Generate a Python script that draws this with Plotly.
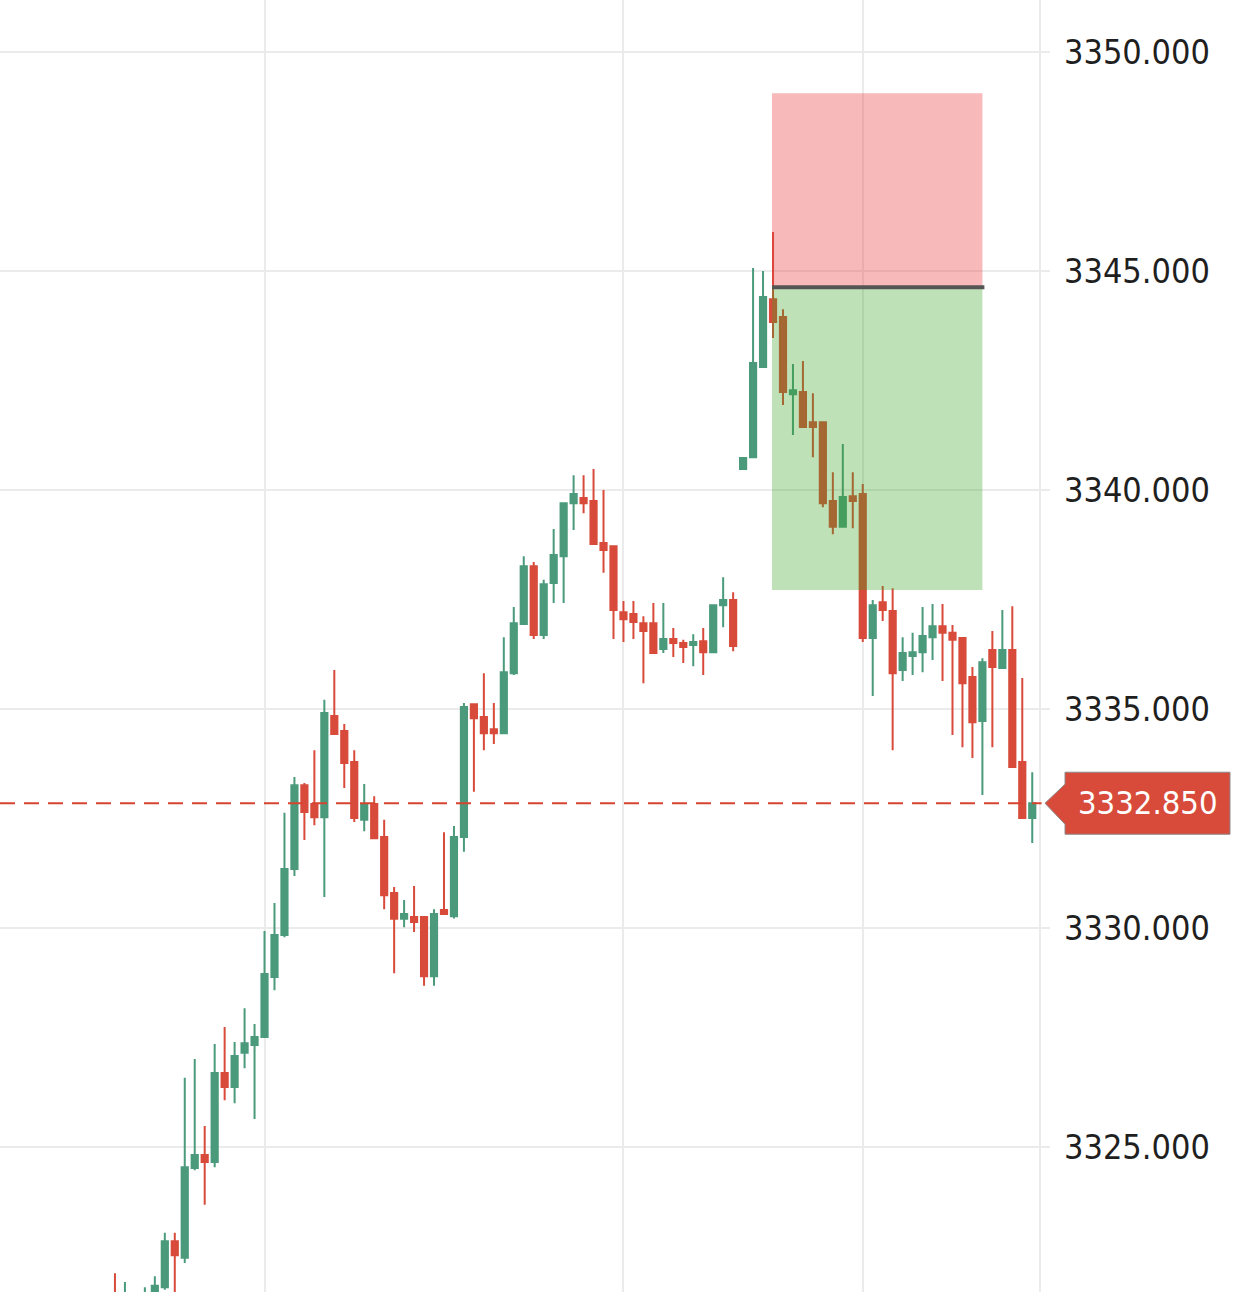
import plotly.graph_objects as go

# ---- data ----
bar_index = list(range(93))
open_ = [3321.50, 3321.00, 3321.20, 3321.20, 3321.50, 3321.80, 3322.85, 3322.47, 3324.52, 3324.82,
         3324.66, 3326.69, 3326.37, 3327.15, 3327.33, 3327.51, 3328.88, 3329.84, 3331.35, 3333.26,
         3332.83, 3332.53, 3334.84, 3334.50, 3333.79, 3332.47, 3332.83, 3332.08, 3330.80, 3330.21,
         3330.25, 3330.25, 3328.90, 3330.41, 3330.27, 3332.08, 3335.11, 3334.82, 3334.54, 3334.45,
         3335.82, 3336.94, 3338.26, 3336.69, 3337.88, 3338.49, 3339.70, 3339.82, 3339.75, 3338.79,
         3338.72, 3337.21, 3337.17, 3336.96, 3336.96, 3336.37, 3336.60, 3336.51, 3336.46, 3336.55,
         3336.30, 3337.37, 3337.49, 3340.48, 3340.75, 3342.81, 3344.36, 3343.95, 3342.19, 3342.24,
         3341.55, 3341.55, 3339.75, 3339.16, 3339.86, 3339.91, 3336.62, 3337.44, 3337.24, 3335.89,
         3336.21, 3336.30, 3336.64, 3336.89, 3336.74, 3336.62, 3335.73, 3334.73, 3336.35, 3335.94,
         3336.35, 3333.79, 3332.51]
high = [3322.12, 3321.92, 3321.60, 3321.80, 3322.05, 3323.04, 3323.04, 3326.58, 3327.01, 3325.48,
        3327.35, 3327.74, 3327.40, 3328.17, 3327.81, 3329.93, 3330.57, 3332.63, 3333.45, 3333.31,
        3334.06, 3335.21, 3335.89, 3334.66, 3334.06, 3333.29, 3333.01, 3332.47, 3330.94, 3330.64,
        3330.96, 3330.27, 3330.43, 3332.19, 3332.33, 3335.14, 3335.13, 3335.82, 3335.14, 3336.64,
        3337.33, 3338.49, 3338.36, 3337.95, 3339.11, 3339.72, 3340.34, 3340.34, 3340.48, 3340.00,
        3338.74, 3337.47, 3337.47, 3337.12, 3337.42, 3337.42, 3336.85, 3336.58, 3336.71, 3336.85,
        3337.39, 3338.01, 3337.67, 3340.73, 3345.07, 3345.00, 3345.89, 3344.13, 3342.88, 3342.95,
        3342.21, 3341.57, 3340.41, 3341.05, 3340.41, 3340.14, 3337.49, 3337.81, 3337.76, 3336.64,
        3336.74, 3337.33, 3337.40, 3337.40, 3336.92, 3336.64, 3335.96, 3336.16, 3336.78, 3337.26,
        3337.35, 3335.71, 3333.56]
low = [3320.80, 3320.70, 3320.90, 3321.00, 3321.30, 3321.74, 3321.60, 3322.35, 3324.47, 3323.68,
       3324.54, 3326.07, 3326.00, 3326.80, 3325.64, 3327.49, 3328.58, 3329.79, 3331.19, 3332.01,
       3332.35, 3330.71, 3334.41, 3333.20, 3332.42, 3332.21, 3332.03, 3330.43, 3328.97, 3330.02,
       3329.91, 3328.68, 3328.68, 3330.30, 3330.22, 3331.74, 3333.11, 3334.06, 3334.20, 3334.43,
       3335.78, 3336.92, 3336.60, 3336.60, 3337.42, 3337.42, 3339.09, 3339.47, 3338.75, 3338.11,
       3336.60, 3336.53, 3336.60, 3335.59, 3336.26, 3336.28, 3336.19, 3336.05, 3335.98, 3335.78,
       3336.28, 3336.87, 3336.32, 3340.48, 3340.73, 3342.79, 3343.47, 3341.94, 3341.26, 3341.42,
       3340.75, 3339.61, 3338.99, 3339.14, 3339.13, 3336.53, 3335.30, 3337.01, 3334.06, 3335.64,
       3335.78, 3335.84, 3336.12, 3335.64, 3334.41, 3334.13, 3333.88, 3333.04, 3334.13, 3335.92,
       3333.66, 3332.49, 3331.94]
close = [3321.20, 3321.50, 3321.40, 3321.60, 3321.83, 3322.85, 3322.53, 3324.54, 3324.82, 3324.66,
         3326.69, 3326.37, 3327.08, 3327.37, 3327.51, 3328.95, 3329.84, 3331.35, 3333.26, 3332.65,
         3332.53, 3334.91, 3334.43, 3333.77, 3332.51, 3332.83, 3332.05, 3330.75, 3330.21, 3330.32,
         3330.14, 3328.90, 3330.32, 3330.32, 3332.08, 3335.05, 3334.79, 3334.45, 3334.45, 3335.84,
         3336.96, 3338.26, 3336.69, 3337.85, 3338.52, 3339.70, 3339.91, 3339.70, 3338.77, 3338.63,
         3337.26, 3337.05, 3336.99, 3336.78, 3336.28, 3336.60, 3336.51, 3336.42, 3336.53, 3336.30,
         3337.37, 3337.49, 3336.44, 3340.73, 3342.90, 3344.41, 3343.84, 3342.24, 3342.28, 3341.44,
         3341.44, 3339.70, 3339.16, 3339.84, 3339.75, 3336.62, 3337.37, 3337.26, 3335.82, 3336.28,
         3336.30, 3336.67, 3336.89, 3336.74, 3336.58, 3335.59, 3334.70, 3336.07, 3335.96, 3336.35,
         3333.68, 3332.51, 3332.85]

price_ticks = [3325, 3330, 3335, 3340, 3345, 3350]
time_grid = [15, 51, 75, 92.8]
last_price = 3332.85

# short-position tool
pos_start, pos_end = 65.9, 87.0
entry_price = 3344.63
stop_price = 3349.06
target_price = 3337.72

GREEN = "#4a9a7b"
RED = "#d84b3b"
LABEL_FONT = "DejaVu Sans Condensed, DejaVu Sans, sans-serif"

fig = go.Figure(go.Candlestick(
    x=bar_index, open=open_, high=high, low=low, close=close,
    increasing=dict(line=dict(color=GREEN, width=2), fillcolor=GREEN),
    decreasing=dict(line=dict(color=RED, width=2), fillcolor=RED),
    whiskerwidth=0, hoverinfo="skip",
))

shapes = [
    # stop zone
    dict(type="rect", xref="x", yref="y", x0=pos_start, x1=pos_end, y0=entry_price, y1=stop_price,
         fillcolor="rgba(232,62,62,0.36)", line=dict(width=0), layer="above"),
    # target zone
    dict(type="rect", xref="x", yref="y", x0=pos_start, x1=pos_end, y0=target_price, y1=entry_price,
         fillcolor="rgba(60,165,35,0.33)", line=dict(width=0), layer="above"),
    # entry line
    dict(type="line", xref="x", yref="y", x0=pos_start, x1=pos_end + 0.2, y0=entry_price, y1=entry_price,
         line=dict(color="#555555", width=4), layer="above"),
    # last price line
    dict(type="line", xref="paper", yref="y", x0=0, x1=0.992, y0=last_price, y1=last_price,
         line=dict(color="#d8432f", width=2, dash="15px,9px"), layer="above"),
    # price tag
    dict(type="path", xref="paper", yref="y", xsizemode="pixel", ysizemode="pixel",
         xanchor=1, yanchor=last_price,
         path="M -5 0 L 15 19 L 15 31 L 180 31 L 180 -31 L 15 -31 L 15 -21 Z",
         fillcolor="#d84b3b", line=dict(color="#8a8a8a", width=1), layer="above"),
]

fig.update_layout(
    width=1242, height=1292,
    margin=dict(l=0, r=192, t=0, b=0),
    plot_bgcolor="white", paper_bgcolor="white",
    showlegend=False, boxgap=0.38, boxgroupgap=0,
    shapes=shapes,
    xaxis=dict(range=[-11.53, 93.78], rangeslider=dict(visible=False), showticklabels=False,
               tickvals=time_grid, showgrid=True, gridcolor="#ebebeb", gridwidth=2,
               zeroline=False, showline=False, ticks=""),
    yaxis=dict(range=[3321.69, 3351.19], side="right", tickvals=price_ticks, tickformat=".3f",
               showgrid=True, gridcolor="#ebebeb", gridwidth=2, zeroline=False, showline=False,
               ticks="", ticklabelstandoff=13,
               tickfont=dict(family=LABEL_FONT, size=34, color="#1f1f1f")),
    annotations=[dict(xref="paper", yref="y", x=1, y=last_price, xshift=97, text=f"{last_price:.3f}",
                      showarrow=False, xanchor="center", yanchor="middle",
                      font=dict(family=LABEL_FONT, size=32.5, color="white"))],
)

fig.write_html("out.html", config={"displayModeBar": False},
               post_script="document.body.style.margin='0';document.body.style.overflow='hidden';")
